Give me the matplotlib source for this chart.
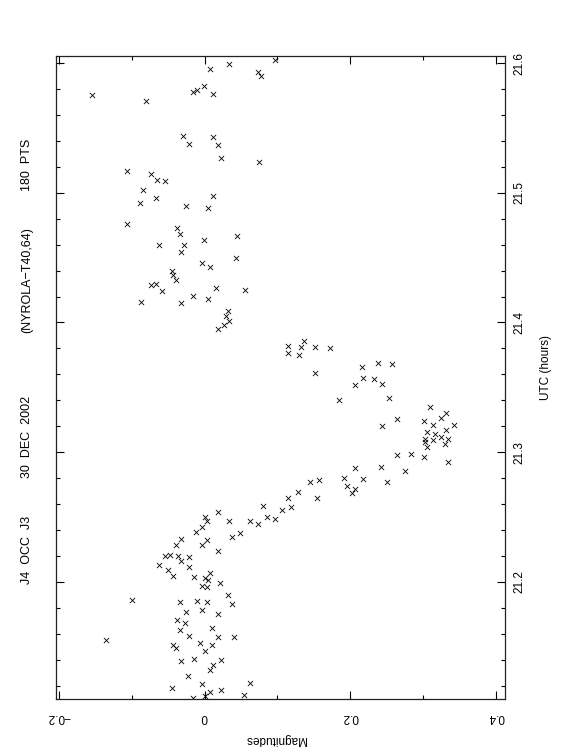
import matplotlib
matplotlib.use("Agg")
import matplotlib.pyplot as plt
from matplotlib.ticker import MultipleLocator

plt.rcParams['font.family'] = ['Liberation Sans', 'DejaVu Sans']

# Magnitudes (horizontal) and UTC hours (vertical)
magnitudes = [
    0.096, 0.033, 0.008, 0.073, 0.078, -0.001, -0.010, -0.016, 0.012, -0.154,
    -0.080, -0.030, 0.011, -0.021, 0.018, 0.022, 0.074, -0.106, -0.073, -0.065,
    -0.055, -0.084, -0.067, 0.011, -0.089, -0.025, 0.005, -0.106, -0.038, -0.034,
    0.045, -0.029, -0.062, -0.001, -0.032, -0.003, 0.043, -0.043, -0.040, -0.045,
    0.008, -0.067, -0.074, 0.015, 0.055, -0.059, -0.016, -0.088, -0.032, 0.004,
    0.032, 0.029, 0.034, 0.018, 0.027, 0.137, 0.132, 0.114, 0.115, 0.130,
    0.151, 0.151, 0.172, 0.216, 0.238, 0.207, 0.244, 0.218, 0.233, 0.253,
    0.257, 0.184, 0.264, 0.244, 0.309, 0.324, 0.301, 0.314, 0.332, 0.305,
    0.303, 0.316, 0.324, 0.313, 0.332, 0.330, 0.334, 0.343, 0.302, 0.283,
    0.305, 0.334, 0.301, 0.264, 0.275, 0.250, 0.242, 0.218, 0.206, 0.206,
    0.202, 0.196, 0.192, 0.157, 0.144, 0.154, 0.115, 0.128, 0.119, 0.080,
    0.106, 0.097, 0.086, 0.073, 0.062, 0.034, 0.018, 0.000, 0.003, -0.004,
    -0.012, 0.003, -0.032, -0.040, -0.003, 0.049, 0.037, 0.018, -0.048, -0.036,
    -0.021, -0.055, -0.062, -0.032, -0.021, -0.051, -0.043, -0.015, 0.000, 0.005,
    0.008, -0.004, 0.003, 0.021, -0.100, -0.034, -0.011, 0.003, 0.032, 0.037,
    -0.004, -0.026, 0.018, -0.135, -0.038, -0.027, -0.043, -0.040, -0.034, -0.022,
    0.010, 0.018, -0.007, 0.040, 0.010, 0.001, -0.014, 0.011, 0.023, -0.032,
    -0.045, -0.003, 0.008, -0.023, 0.062, 0.022, 0.054, -0.016, 0.001, 0.007,
]
utc_hours = [
    21.6023, 21.5992, 21.5954, 21.5931, 21.5900, 21.5823, 21.5792, 21.5776, 21.5761, 21.5753,
    21.5707, 21.5437, 21.5429, 21.5376, 21.5368, 21.5268, 21.5237, 21.5167, 21.5144, 21.5098,
    21.5090, 21.5021, 21.4959, 21.4975, 21.4921, 21.4898, 21.4882, 21.4759, 21.4728, 21.4682,
    21.4666, 21.4597, 21.4597, 21.4635, 21.4543, 21.4458, 21.4497, 21.4365, 21.4327, 21.4396,
    21.4427, 21.4296, 21.4288, 21.4265, 21.4250, 21.4242, 21.4204, 21.4157, 21.4150, 21.4180,
    21.4088, 21.4049, 21.4011, 21.3949, 21.3980, 21.3857, 21.3810, 21.3818, 21.3764, 21.3749,
    21.3610, 21.3810, 21.3803, 21.3657, 21.3688, 21.3517, 21.3525, 21.3571, 21.3564, 21.3417,
    21.3679, 21.3402, 21.3255, 21.3201, 21.3348, 21.3263, 21.3240, 21.3209, 21.3302, 21.3155,
    21.3078, 21.3140, 21.3117, 21.3093, 21.3171, 21.3063, 21.3101, 21.3209, 21.3101, 21.2985,
    21.3040, 21.2924, 21.2962, 21.2978, 21.2854, 21.2769, 21.2885, 21.2793, 21.2877, 21.2716,
    21.2685, 21.2739, 21.2800, 21.2785, 21.2769, 21.2646, 21.2646, 21.2693, 21.2578, 21.2585,
    21.2554, 21.2484, 21.2500, 21.2446, 21.2469, 21.2469, 21.2539, 21.2500, 21.2469, 21.2423,
    21.2385, 21.2323, 21.2331, 21.2284, 21.2284, 21.2376, 21.2346, 21.2238, 21.2207, 21.2199,
    21.2192, 21.2199, 21.2130, 21.2161, 21.2115, 21.2092, 21.2045, 21.2037, 21.2030, 21.2014,
    21.2068, 21.1968, 21.1960, 21.1991, 21.1860, 21.1844, 21.1852, 21.1844, 21.1898, 21.1829,
    21.1783, 21.1767, 21.1752, 21.1551, 21.1706, 21.1683, 21.1513, 21.1490, 21.1629, 21.1582,
    21.1644, 21.1574, 21.1528, 21.1574, 21.1513, 21.1467, 21.1405, 21.1359, 21.1397, 21.1389,
    21.1181, 21.1212, 21.1320, 21.1274, 21.1220, 21.1167, 21.1129, 21.1105, 21.1121, 21.1152,
]

mag_ticks = [-0.2, 0.0, 0.2, 0.4]
mag_labels = ["\u22120.2", "0", "0.2", "0.4"]
utc_ticks = [21.2, 21.3, 21.4, 21.5, 21.6]
utc_labels = ["21.2", "21.3", "21.4", "21.5", "21.6"]
title_parts = ["J4  OCC  J3", "30  DEC  2002", "(NYROLA\u2212T40,64)", "180  PTS"]

fig = plt.figure(figsize=(5.62, 7.56), dpi=100)
ax = fig.add_axes([56.3 / 562, 57 / 756, (505 - 56.3) / 562, (699 - 56) / 756])

ax.scatter(magnitudes, utc_hours, marker='x', s=14, c='black', linewidths=0.6)

ax.set_xlim(-0.2037, 0.4124)
ax.set_ylim(21.1098, 21.6054)

ax.set_xticks(mag_ticks)
ax.set_xticklabels(mag_labels)
ax.xaxis.set_minor_locator(MultipleLocator(0.1))
ax.set_yticks(utc_ticks)
ax.set_yticklabels(utc_labels)
ax.yaxis.set_minor_locator(MultipleLocator(0.02))

ax.tick_params(which='both', direction='in', top=True, bottom=True, left=True, right=True,
               labelleft=False, labelright=True, labeltop=False, labelbottom=True,
               width=0.8, colors='black')
ax.tick_params(which='major', length=5.5)
ax.tick_params(which='minor', length=3)
ax.tick_params(axis='x', which='major', labelrotation=180, pad=9, labelsize=8.5)
ax.tick_params(axis='y', which='major', labelrotation=90, pad=6, labelsize=8.5)
for lab in ax.get_yticklabels():
    lab.set_va('center')

for s in ax.spines.values():
    s.set_linewidth(0.9)
    s.set_color('#222222')

fig.text(276 / 562, 1 - 739 / 756, "Magnitudes", rotation=180, ha='center', va='center', fontsize=8.5)
fig.text(546 / 562, 1 - 367 / 756, "UTC (hours)", rotation=90, ha='center', va='center', fontsize=8.5)

title_y = [550, 437, 280, 165]
for txt, yy in zip(title_parts, title_y):
    fig.text(27 / 562, 1 - yy / 756, txt, rotation=90, ha='center', va='center', fontsize=9)

fig.savefig("out.png", dpi=100)
